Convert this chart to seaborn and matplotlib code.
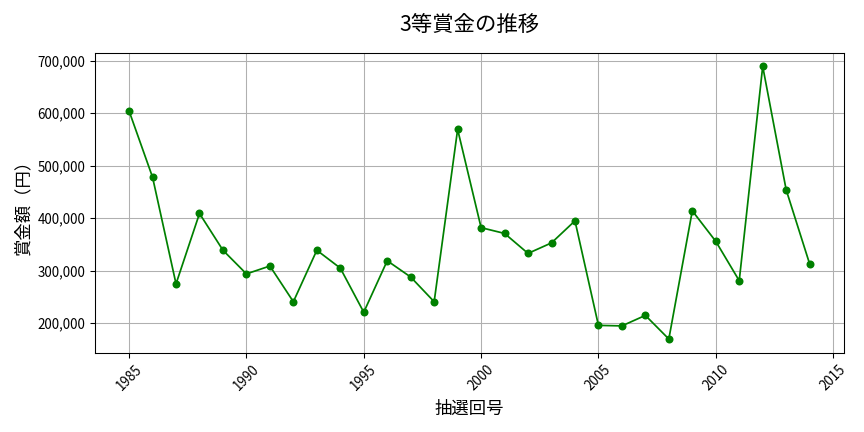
import matplotlib
matplotlib.use("Agg")
import matplotlib.pyplot as plt
import matplotlib.ticker as mticker
import pandas as pd
import seaborn as sns

years = list(range(1985, 2015))
prize = [
    604000, 478000, 275000, 409000, 339000, 294000, 309000, 241000, 339000, 305000,
    221000, 319000, 288000, 241000, 569000, 382000, 371000, 333000, 353000, 395000,
    196000, 195000, 215000, 170000, 414000, 356000, 281000, 689000, 454000, 313000,
]

df = pd.DataFrame({"year": years, "prize": prize})

plt.rcParams['font.family'] = ['Noto Sans CJK JP', 'DejaVu Sans']

fig, ax = plt.subplots(figsize=(9, 4.5), dpi=96)
sns.lineplot(data=df, x="year", y="prize", color="green", marker="o",
             markersize=6, markeredgewidth=0, linewidth=1.3, ax=ax)

ax.set_title("3等賞金の推移", fontsize=16, pad=16)
ax.set_xlabel("抽選回号", fontsize=13, labelpad=5)
ax.set_ylabel("賞金額（円）", fontsize=13)
ax.yaxis.set_major_formatter(mticker.FuncFormatter(lambda v, p: f"{int(v):,}"))
ax.tick_params(axis="x", rotation=45)
ax.grid(True, color="#b0b0b0", linewidth=0.8)
ax.set_axisbelow(True)

plt.tight_layout()
plt.savefig("out.png")
plt.close()
